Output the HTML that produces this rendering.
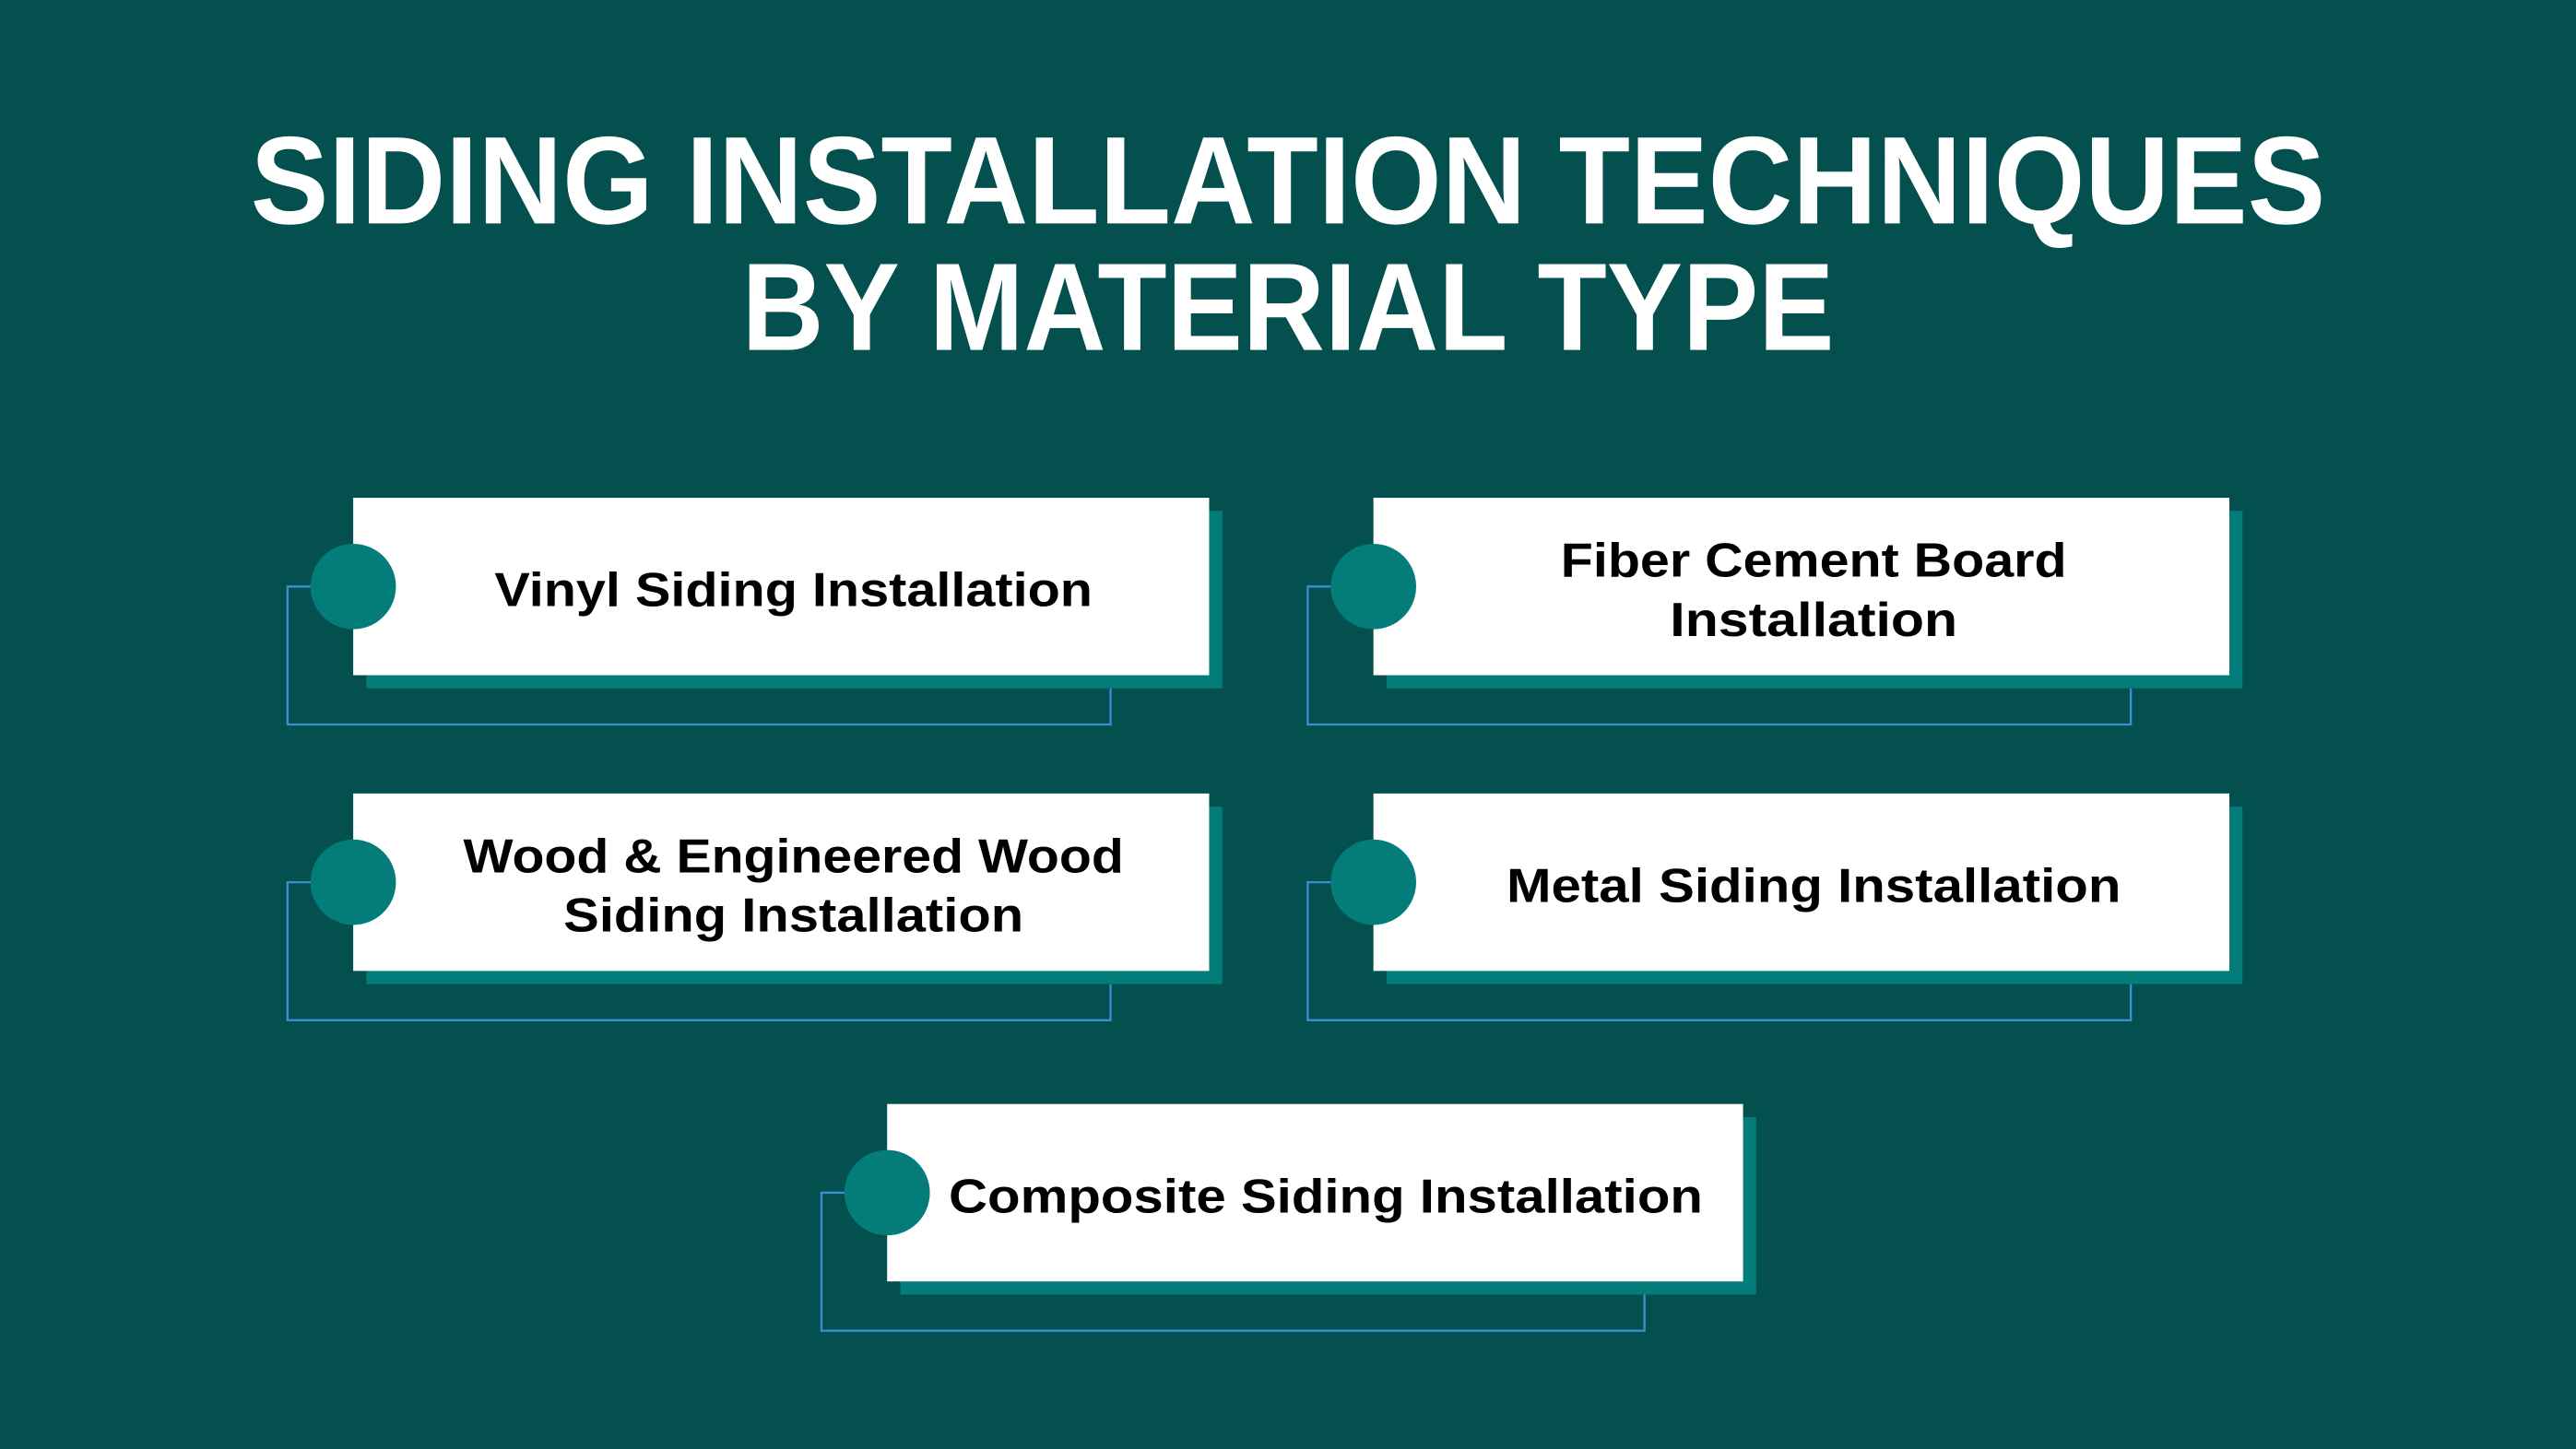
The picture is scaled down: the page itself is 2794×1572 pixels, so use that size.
<!DOCTYPE html>
<html><head><meta charset="utf-8"><style>
html,body{margin:0;padding:0;background:#03504f;overflow:hidden}
svg{display:block}
text{font-family:"Liberation Sans",sans-serif;font-weight:bold}
</style></head><body>
<svg width="2794" height="1572" viewBox="0 0 1568 882" preserveAspectRatio="none" xmlns="http://www.w3.org/2000/svg">
<rect width="1568" height="882" fill="#03504f"/>
<text x="784" y="136" fill="#fff" font-size="76" text-anchor="middle" textLength="1263" lengthAdjust="spacingAndGlyphs">SIDING INSTALLATION TECHNIQUES</text>
<text x="784" y="213" fill="#fff" font-size="76" text-anchor="middle" textLength="665" lengthAdjust="spacingAndGlyphs">BY MATERIAL TYPE</text>
<g id="c1">
<polyline points="190,357 175,357 175,441 676,441 676,419" fill="none" stroke="#3a8fd0" stroke-width="1.3"/>
<rect x="223" y="311" width="521" height="108" fill="#037c7a"/>
<rect x="215" y="303" width="521" height="108" fill="#fff"/>
<circle cx="215" cy="357" r="26" fill="#037c7a"/>
</g>
<use href="#c1" x="621" y="0"/>
<use href="#c1" x="0" y="180"/>
<use href="#c1" x="621" y="180"/>
<use href="#c1" x="325" y="369"/>
<g fill="#000" font-size="29" text-anchor="middle">
<text x="483" y="369" textLength="364" lengthAdjust="spacingAndGlyphs">Vinyl Siding Installation</text>
<text x="1104" y="351" textLength="308" lengthAdjust="spacingAndGlyphs">Fiber Cement Board</text>
<text x="1104" y="387" textLength="175" lengthAdjust="spacingAndGlyphs">Installation</text>
<text x="483" y="531" textLength="402" lengthAdjust="spacingAndGlyphs">Wood &amp; Engineered Wood</text>
<text x="483" y="567" textLength="280" lengthAdjust="spacingAndGlyphs">Siding Installation</text>
<text x="1104" y="549" textLength="374" lengthAdjust="spacingAndGlyphs">Metal Siding Installation</text>
<text x="807" y="738" textLength="459" lengthAdjust="spacingAndGlyphs">Composite Siding Installation</text>
</g>
</svg>
</body></html>
